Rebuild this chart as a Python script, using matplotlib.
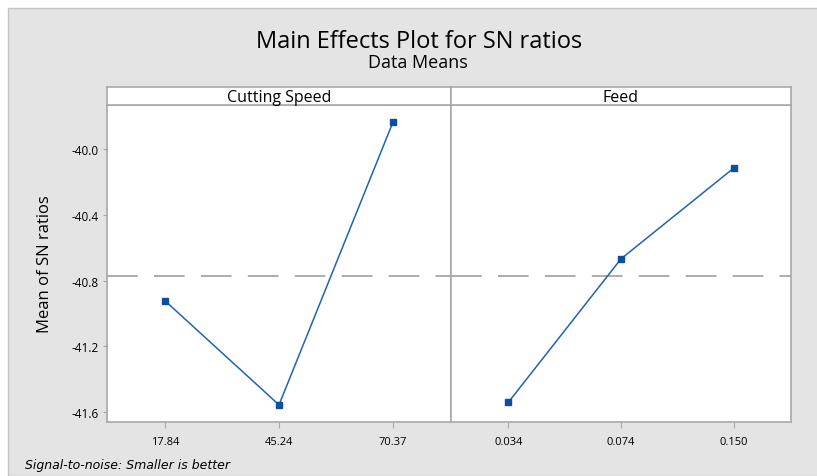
import matplotlib
matplotlib.use("Agg")
import matplotlib.pyplot as plt
from matplotlib.patches import Rectangle

# ---- data ----
factors = ["Cutting Speed", "Feed"]
speed_levels = ["17.84", "45.24", "70.37"]
speed_sn = [-40.923, -41.555, -39.838]
feed_levels = ["0.034", "0.074", "0.150"]
feed_sn = [-41.539, -40.668, -40.117]
y_ticks = [-40.0, -40.4, -40.8, -41.2, -41.6]
y_tick_labels = ["-40.0", "-40.4", "-40.8", "-41.2", "-41.6"]
grand_mean = -40.772

W, H = 817, 477
plt.rcParams["font.family"] = ["Open Sans", "DejaVu Sans"]
fig = plt.figure(figsize=(W / 100, H / 100), dpi=100)
bg = "#e4e4e4"
fig.patch.set_facecolor("white")
# gray panel with a thin border, offset from top-left
fig.patches.append(Rectangle((8 / W, 0), 1, 1 - 9 / H, transform=fig.transFigure,
                             facecolor=bg, edgecolor="#c4c4c4", lw=1.0, zorder=-10))

def px(x0, y0, x1, y1):
    return [x0 / W, 1 - y1 / H, (x1 - x0) / W, (y1 - y0) / H]

panels = [(107, 451, speed_levels, speed_sn), (451, 791, feed_levels, feed_sn)]
line_c = "#1f63b5"
mark_c = "#0a4fa0"
spine_c = "#a8a8a8"
ylim = (-41.659, -39.733)

for i, (x0, x1, levels, vals) in enumerate(panels):
    ax = fig.add_axes(px(x0, 106, x1, 423))
    ax.set_facecolor("white")
    xs = list(range(len(levels)))
    ax.axhline(grand_mean, color="#a6a6a6", lw=1.3, dashes=(17, 9), zorder=1)
    ax.plot(xs, vals, color=line_c, lw=1.1, marker="s", ms=5,
            mfc=mark_c, mec=mark_c, zorder=3)
    ax.set_xlim(-0.51, 2.51)
    ax.set_ylim(*ylim)
    ax.set_xticks(xs)
    ax.set_xticklabels(levels, fontsize=8)
    for s in ax.spines.values():
        s.set_color(spine_c)
        s.set_linewidth(1.2)
    ax.tick_params(axis="x", direction="out", length=4, color=spine_c, pad=6)
    if i == 0:
        ax.set_yticks(y_ticks)
        ax.set_yticklabels(y_tick_labels, fontsize=8.5)
        ax.tick_params(axis="y", direction="out", length=3, color=spine_c, pad=3)
        ax.set_ylabel("Mean of SN ratios", fontsize=12, labelpad=13)
    else:
        ax.set_yticks([])
    # strip
    sax = fig.add_axes(px(x0, 88, x1, 106))
    sax.set_facecolor("white")
    sax.set_xticks([])
    sax.set_yticks([])
    for s in sax.spines.values():
        s.set_color(spine_c)
        s.set_linewidth(1.2)
    sax.text(0.5, 0.45, factors[i], ha="center", va="center", fontsize=11.5,
             transform=sax.transAxes)

fig.text(419 / W, 1 - 42 / H, "Main Effects Plot for SN ratios", ha="center",
         va="center", fontsize=17)
fig.text(418 / W, 1 - 63 / H, "Data Means", ha="center", va="center", fontsize=13)
fig.text(25 / W, 1 - 466 / H, "Signal-to-noise: Smaller is better", ha="left",
         va="center", fontsize=9, style="italic", family=["DejaVu Sans"])

fig.savefig("out.png", dpi=100, facecolor=fig.get_facecolor())
